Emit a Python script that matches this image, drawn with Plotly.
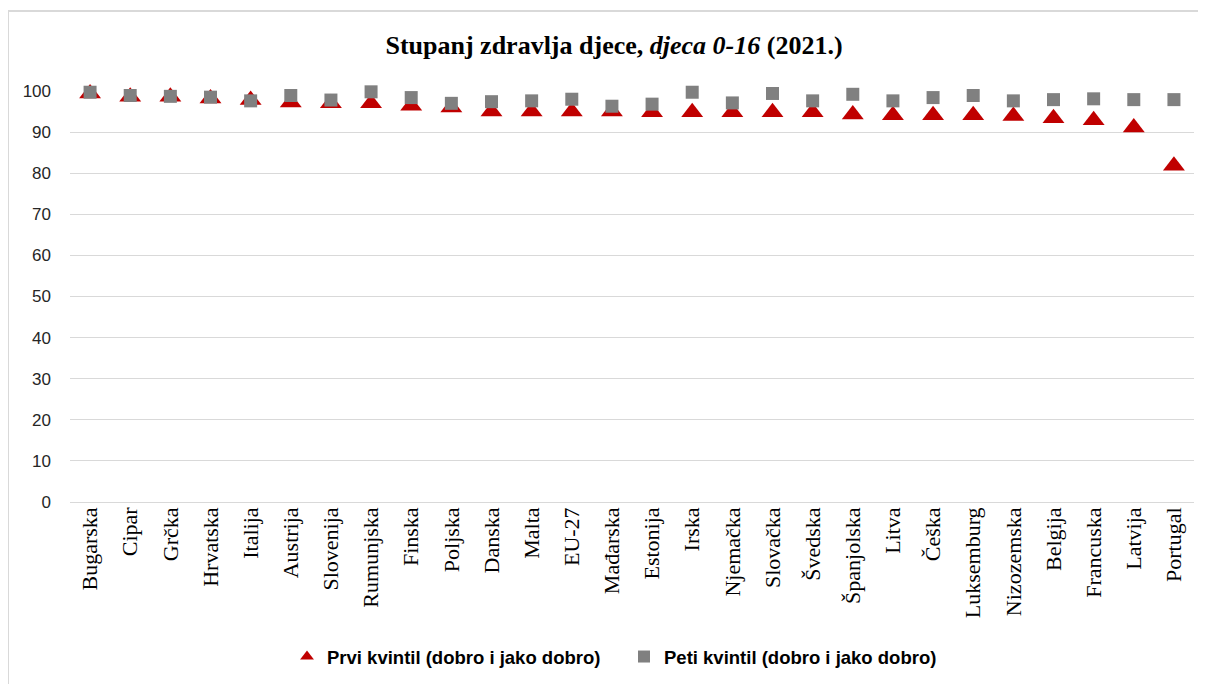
import plotly.graph_objects as go

countries = ["Bugarska", "Cipar", "Grčka", "Hrvatska", "Italija", "Austrija", "Slovenija",
             "Rumunjska", "Finska", "Poljska", "Danska", "Malta", "EU-27", "Mađarska",
             "Estonija", "Irska", "Njemačka", "Slovačka", "Švedska", "Španjolska", "Litva",
             "Češka", "Luksemburg", "Nizozemska", "Belgija", "Francuska", "Latvija", "Portugal"]

prvi = [99.4, 98.6, 98.6, 98.2, 97.8, 97.2, 97.0, 97.0, 96.4, 96.0, 95.0, 95.0, 95.0, 95.0,
        94.8, 94.8, 94.8, 94.8, 94.8, 94.3, 94.1, 94.1, 94.1, 93.9, 93.4, 92.9, 91.1, 81.8]

peti = [99.7, 98.9, 98.7, 98.5, 97.6, 98.9, 97.8, 99.8, 98.4, 97.0, 97.4, 97.6, 98.0, 96.3,
        96.8, 99.7, 97.1, 99.4, 97.6, 99.2, 97.6, 98.4, 98.9, 97.6, 97.9, 98.1, 97.9, 97.9]

y_ticks = [0, 10, 20, 30, 40, 50, 60, 70, 80, 90, 100]

# page body has an 8px margin, so layout is offset by -8px
L, T, PW, PH = 62, 83, 1124, 411

fig = go.Figure()
fig.add_trace(go.Scatter(
    x=countries, y=prvi, mode="markers",
    name="Prvi kvintil (dobro i jako dobro)",
    marker=dict(symbol="triangle-up", size=19, color="#C00000"),
    cliponaxis=False,
))
fig.add_trace(go.Scatter(
    x=countries, y=peti, mode="markers",
    name="Peti kvintil (dobro i jako dobro)",
    marker=dict(symbol="square", size=13, color="#808080"),
    cliponaxis=False,
))

fig.update_layout(
    width=1206, height=684,
    margin=dict(l=L, r=1206 - L - PW, t=T, b=684 - T - PH, autoexpand=False),
    paper_bgcolor="white", plot_bgcolor="white",
    title=dict(
        text="<b>Stupanj zdravlja djece, <i>djeca 0-16</i> (2021.)</b>",
        x=606 / 1206, xanchor="center", y=1 - 37 / 684, yanchor="middle",
        font=dict(family="Liberation Serif, Times New Roman, serif", size=26, color="#000000"),
    ),
    xaxis=dict(
        type="category", tickangle=-90, showgrid=False, showline=False, ticks="",
        tickfont=dict(family="Liberation Serif, Times New Roman, serif", size=22, color="#000000"),
        range=[-0.5, len(countries) - 0.5],
    ),
    yaxis=dict(
        range=[0, 100], tickvals=y_ticks, showgrid=True, gridcolor="#D9D9D9", gridwidth=1,
        zeroline=True, zerolinecolor="#D9D9D9", zerolinewidth=1, showline=False, ticks="",
        ticklabelstandoff=18,
        tickfont=dict(family="Liberation Sans, Arial, sans-serif", size=17, color="#262626"),
    ),
    legend=dict(
        orientation="h", x=(279 - L) / PW, xanchor="left", y=(T + PH - 649) / PH, yanchor="middle",
        font=dict(family="Liberation Sans, Arial, sans-serif",
                  size=18.5, color="#000000", weight="bold"),
        itemsizing="constant", tracegroupgap=0, entrywidth=292, entrywidthmode="pixels",
    ),
    showlegend=True,
)

# chart border (left and top edges visible)
bx = (0 - L) / PW
by = 1 + (T - 3) / PH
fig.add_shape(type="line", xref="paper", yref="paper",
              x0=bx, x1=bx, y0=by, y1=-300 / PH,
              line=dict(color="#D9D9D9", width=2))
fig.add_shape(type="line", xref="paper", yref="paper",
              x0=bx, x1=1 + 60 / PW, y0=by, y1=by,
              line=dict(color="#D9D9D9", width=2))

fig.write_html("out.html")
